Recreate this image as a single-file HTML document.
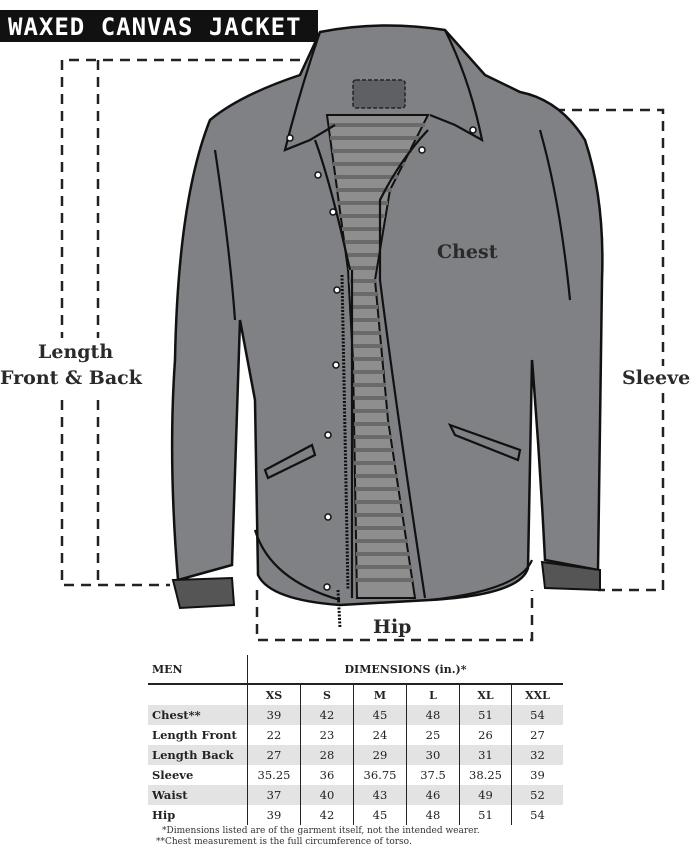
<!DOCTYPE html>
<html><head><meta charset="utf-8"><style>
body{margin:0;width:700px;height:844px;background:#fff;overflow:hidden;position:relative;font-family:"Liberation Serif",serif}
.lbl{position:absolute;font-weight:bold;color:#2a2a2a;font-family:"DejaVu Serif","Liberation Serif",serif;line-height:24px}
.w{background:#fff}
table{position:absolute;left:148px;top:655px;border-collapse:collapse;font-size:11.5px;font-family:"DejaVu Serif","Liberation Serif",serif}
td{height:20px;padding:0;text-align:center;border-left:1px solid #222;color:#222}
td:first-child{border-left:none;text-align:left;font-weight:bold;padding-left:4px;width:95px}
tr.g td{background:#e3e3e3}
tr.h td{font-weight:bold;font-size:11px}
.fn{position:absolute;left:162px;font-size:9px;color:#333;font-family:"DejaVu Serif",serif}
</style></head><body>
<div style="position:absolute;left:0;top:10px;width:318px;height:32px;background:#111"></div>
<div style="position:absolute;left:8px;top:13px;color:#fff;font:bold 24px 'DejaVu Sans Mono',monospace;letter-spacing:1px">WAXED CANVAS JACKET</div>
<svg width="700" height="844" style="position:absolute;left:0;top:0">
<g fill="none" stroke="#222" stroke-width="2.5" stroke-dasharray="10,7">
<path d="M300 60 H62 V585 H170"/>
<path d="M98 60 V585"/>
<path d="M555 110 H663 V590 H598"/>
<path d="M245 270 H528"/>
<path d="M257 590 V640 H532 V590"/>
</g>
<path d="M300 75 L320 32 Q380 20 445 30 L485 75 L520 92 Q560 100 585 140 Q605 200 602 280 L598 570 L545 560 Q540 460 532 360 L528 568 Q520 595 430 600 L340 605 Q270 600 258 575 L255 400 L240 320 L232 565 L178 580 Q168 460 175 360 Q178 200 210 120 Q240 95 300 75Z" fill="#7f8184" stroke="#111" stroke-width="2.5"/>
<path d="M173 580 L232 578 L234 605 L180 608Z" fill="#555" stroke="#111" stroke-width="2"/>
<path d="M542 562 L600 570 L600 590 L545 588Z" fill="#555" stroke="#111" stroke-width="2"/>
<path d="M327 115 L428 115 L390 190 L375 280 L388 420 L415 598 L357 598 L353 360 L348 270 Z" fill="#8e8e8e" stroke="#111" stroke-width="2"/>
<g stroke="#6a6a6a" stroke-width="4">
<path d="M330 125H425M330 138H420M332 151H412M333 164H405M334 177H398M336 190H392M338 203H388M340 216H385M342 229H382M344 242H380M346 255H378M348 268H376M349 281H376M350 294H377M351 307H378M351 320H380M352 333H381M352 346H382M352 359H383M353 372H384M353 385H386M353 398H387M353 411H388M354 424H390M354 437H392M354 450H394M354 463H396M355 476H398M355 489H400M355 502H402M355 515H404M355 528H406M355 541H408M356 554H410M356 567H412M356 580H413"/>
</g>
<rect x="353" y="80" width="52" height="28" rx="3" fill="#5e6063" stroke="#222" stroke-width="1.5" stroke-dasharray="4,2"/>
<g fill="none" stroke="#111" stroke-width="2.2">
<path d="M320 32 Q300 90 285 150 L310 140 L335 125"/>
<path d="M445 30 Q470 80 482 140 L455 125 L430 115"/>
<path d="M315 140 Q330 180 350 270"/>
<path d="M428 130 Q400 160 380 200 L380 280 Q395 400 425 598"/>
<path d="M352 270 L352 598"/>
<path d="M265 470 L312 445 L315 455 L268 478Z"/>
<path d="M450 425 L520 450 L518 460 L455 435Z"/>
<path d="M255 530 Q270 580 340 600"/>
<path d="M532 560 Q520 590 430 600"/>
<path d="M215 150 Q230 250 235 320"/>
<path d="M540 130 Q560 200 570 300"/>
</g>
<g fill="#fff" stroke="#111" stroke-width="1.5">
<circle cx="290" cy="138" r="3"/><circle cx="318" cy="175" r="3"/><circle cx="333" cy="212" r="3"/>
<circle cx="422" cy="150" r="3"/><circle cx="473" cy="130" r="3"/><circle cx="337" cy="290" r="3"/>
<circle cx="336" cy="365" r="3"/><circle cx="328" cy="435" r="3"/><circle cx="328" cy="517" r="3"/><circle cx="327" cy="587" r="3"/>
</g>
<path d="M342 275 L348 590 M338 590 L340 628" stroke="#111" stroke-width="3" stroke-dasharray="2,1.5"/>
</svg>
<div class="lbl" style="left:437px;top:240px;font-size:19px">Chest</div>
<div class="lbl w" style="left:0;top:338px;width:158px;height:56px"></div>
<div class="lbl" style="left:38px;top:340px;font-size:19px">Length</div>
<div class="lbl" style="left:0;top:366px;font-size:19px">Front &amp; Back</div>
<div class="lbl w" style="left:622px;top:366px;font-size:19px;width:78px">Sleeve</div>
<div class="lbl" style="left:373px;top:615px;font-size:19px">Hip</div>
<table>
<tr class="h" style="border-bottom:2px solid #222"><td style="height:28px;vertical-align:middle">MEN</td><td colspan="6">DIMENSIONS (in.)*</td></tr>
<tr class="h"><td></td><td style="width:52px">XS</td><td style="width:52px">S</td><td style="width:52px">M</td><td style="width:52px">L</td><td style="width:51px">XL</td><td style="width:51px">XXL</td></tr>
<tr class="g"><td>Chest**</td><td>39</td><td>42</td><td>45</td><td>48</td><td>51</td><td>54</td></tr>
<tr><td>Length Front</td><td>22</td><td>23</td><td>24</td><td>25</td><td>26</td><td>27</td></tr>
<tr class="g"><td>Length Back</td><td>27</td><td>28</td><td>29</td><td>30</td><td>31</td><td>32</td></tr>
<tr><td>Sleeve</td><td>35.25</td><td>36</td><td>36.75</td><td>37.5</td><td>38.25</td><td>39</td></tr>
<tr class="g"><td>Waist</td><td>37</td><td>40</td><td>43</td><td>46</td><td>49</td><td>52</td></tr>
<tr><td>Hip</td><td>39</td><td>42</td><td>45</td><td>48</td><td>51</td><td>54</td></tr>
</table>
<div class="fn" style="top:826px">*Dimensions listed are of the garment itself, not the intended wearer.</div>
<div class="fn" style="top:837px;left:156px">**Chest measurement is the full circumference of torso.</div>
</body></html>
